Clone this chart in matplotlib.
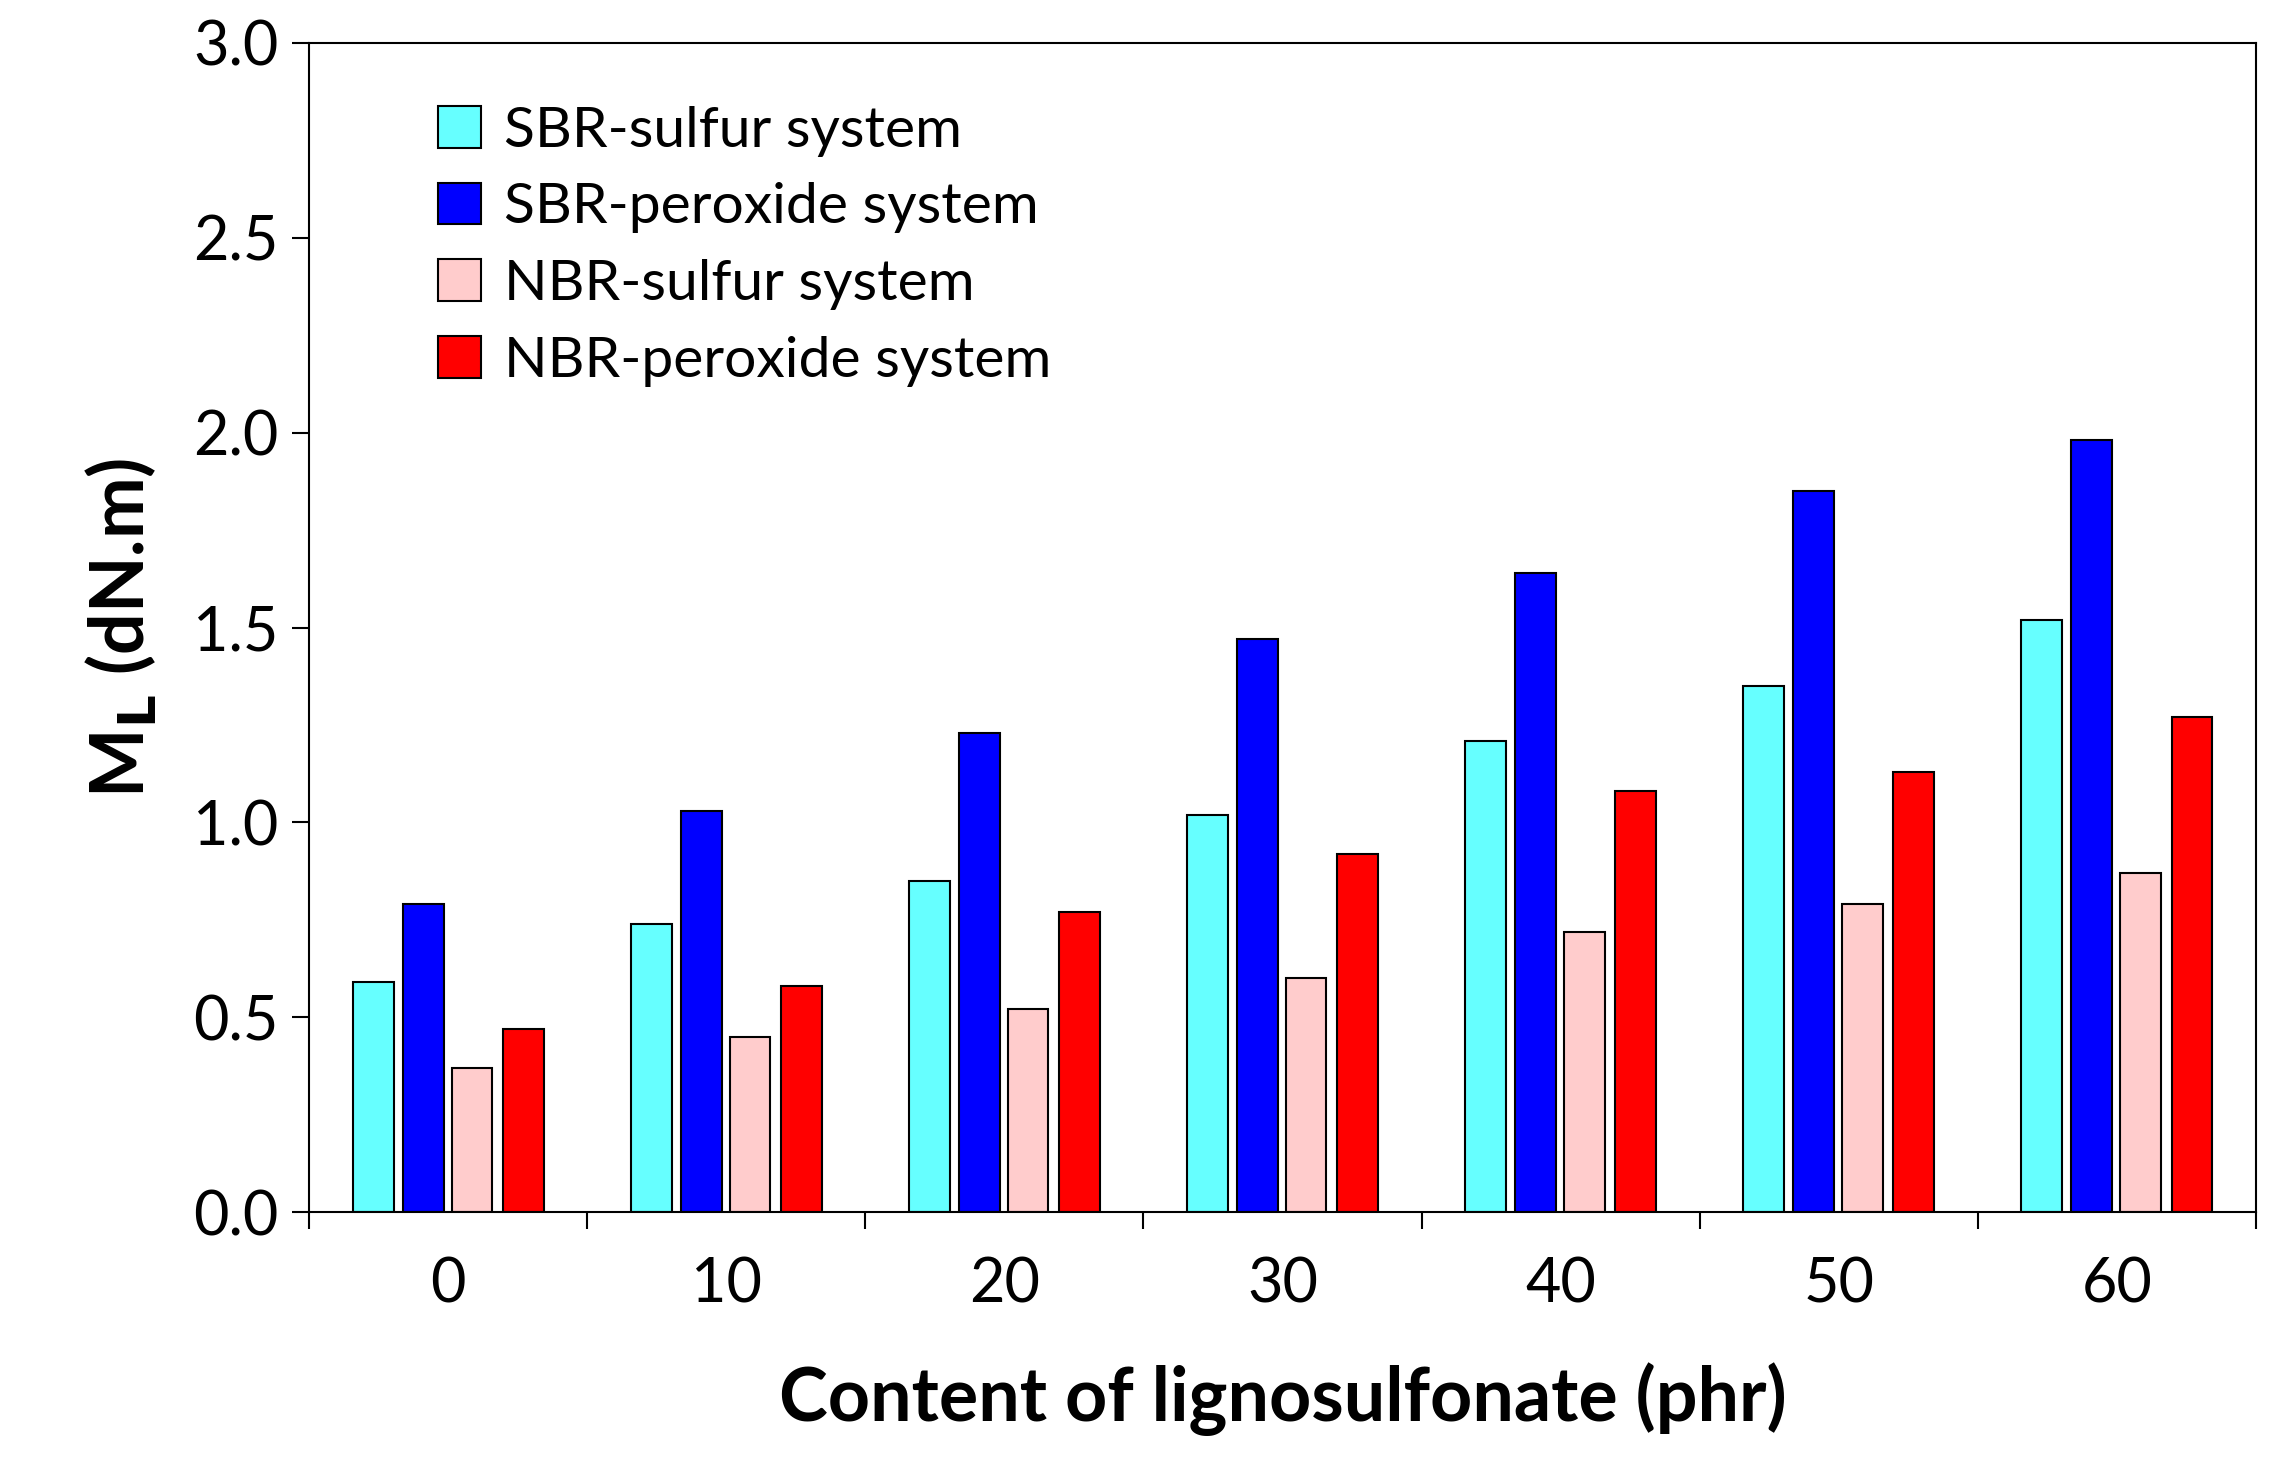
import numpy as np
import matplotlib.pyplot as plt

plt.rcParams["font.family"] = "Lato"

contents = ["0", "10", "20", "30", "40", "50", "60"]
sbr_sulfur = [0.59, 0.74, 0.85, 1.02, 1.21, 1.35, 1.52]
sbr_peroxide = [0.79, 1.03, 1.23, 1.47, 1.64, 1.85, 1.98]
nbr_sulfur = [0.37, 0.45, 0.52, 0.60, 0.72, 0.79, 0.87]
nbr_peroxide = [0.47, 0.58, 0.77, 0.92, 1.08, 1.13, 1.27]

series = [
    ("SBR-sulfur system", sbr_sulfur, "#66ffff"),
    ("SBR-peroxide system", sbr_peroxide, "#0000ff"),
    ("NBR-sulfur system", nbr_sulfur, "#ffcccc"),
    ("NBR-peroxide system", nbr_peroxide, "#ff0000"),
]
offsets = [-0.27, -0.09, 0.085, 0.27]

fig = plt.figure(figsize=(22.74, 14.8), dpi=100)
ax = fig.add_axes([0.136, 0.181, 0.856, 0.79])
x = np.arange(len(contents))
for (name, vals, col), off in zip(series, offsets):
    ax.bar(x + off, vals, width=0.146, color=col, edgecolor="black",
           linewidth=1.5, label=name)

ax.set_xlim(-0.5, 6.5)
ax.set_ylim(0, 3.0)
ax.set_yticks(np.arange(0, 3.01, 0.5))
ax.set_yticklabels([f"{v:.1f}" for v in np.arange(0, 3.01, 0.5)])
ax.set_xticks(x)
ax.set_xticklabels(contents)
ax.set_xticks(np.arange(-0.5, 6.6, 1), minor=True)
ax.tick_params(axis="x", which="major", length=0, pad=32, labelsize=44)
ax.tick_params(axis="x", which="minor", length=12, width=1.5, direction="out")
ax.tick_params(axis="y", length=12, width=1.5, labelsize=44, pad=10)
for s in ax.spines.values():
    s.set_linewidth(1.5)

ax.set_xlabel("Content of lignosulfonate (phr)", fontsize=53, fontweight="bold", labelpad=35)
ax.set_ylabel("M$_\\mathbf{L}$ (dN.m)", fontsize=53, fontweight="bold", labelpad=25)

ax.legend(loc="upper left", bbox_to_anchor=(0.04, 0.99), frameon=False,
          fontsize=41, handlelength=0.75, handleheight=0.75, labelspacing=0.45,
          handletextpad=0.4)

fig.savefig("out.png")
